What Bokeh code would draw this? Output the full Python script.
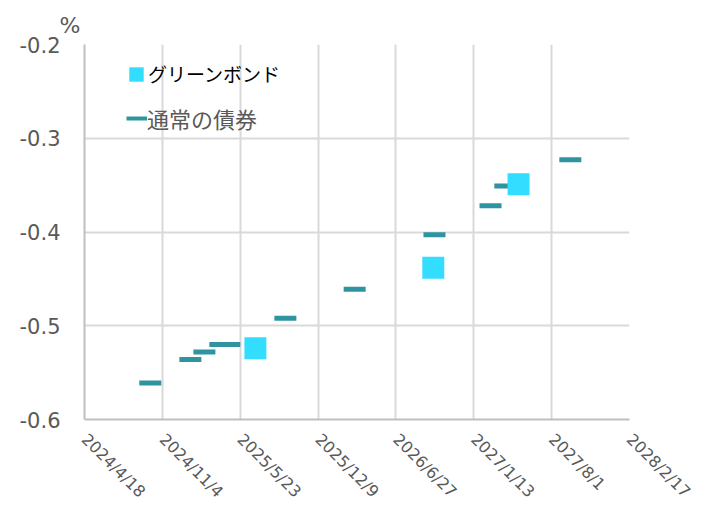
import math
import pandas as pd
from bokeh.plotting import figure
from bokeh.models import (Range1d, FixedTicker, Legend, LegendItem,
                          ColumnDataSource)
from bokeh.embed import file_html
from bokeh.resources import INLINE

# ---------------- data ----------------
start_date = "2024-04-18"
x_tick_labels = ["2024/4/18", "2024/11/4", "2025/5/23", "2025/12/9",
                 "2026/6/27", "2027/1/13", "2027/8/1", "2028/2/17"]
y_tick_labels = ["-0.6", "-0.5", "-0.4", "-0.3", "-0.2"]
y_unit = "%"

green_dates = ["2025-07-01", "2026-10-01", "2027-05-08"]
green_yields = [-0.524, -0.438, -0.349]

regular_dates = ["2024-10-04", "2025-01-15", "2025-02-20", "2025-04-02",
                 "2025-04-25", "2025-09-16", "2026-03-13", "2026-10-04",
                 "2027-02-25", "2027-04-04", "2027-09-18"]
regular_yields = [-0.561, -0.536, -0.528, -0.520, -0.520, -0.492, -0.461,
                  -0.403, -0.372, -0.351, -0.323]

series_names = ["グリーンボンド", "通常の債券"]

# ---------------- helpers ----------------
t0 = pd.Timestamp(start_date)


def to_days(dates, fmt=None):
    d = pd.to_datetime(dates, format=fmt)
    return [int((x - t0).days) for x in d]


x_ticks = to_days(x_tick_labels, fmt="%Y/%m/%d")
y_ticks = [float(s) for s in y_tick_labels]

green_src = ColumnDataSource(dict(x=to_days(green_dates), y=green_yields))
reg_src = ColumnDataSource(dict(x=to_days(regular_dates), y=regular_yields))

GRAY_TXT = "#595959"
GRID = "#D9D9D9"
AXIS = "#BFBFBF"
CYAN = "#33DDFF"
TEAL = "#2F94A0"

p = figure(width=712, height=512, output_backend="svg", toolbar_location=None,
           x_range=Range1d(x_ticks[0], x_ticks[-1]),
           y_range=Range1d(y_ticks[0], y_ticks[-1]),
           min_border_left=84, min_border_right=83,
           min_border_top=44, min_border_bottom=93)
p.outline_line_color = None
p.background_fill_color = "white"
p.border_fill_color = "white"

# unit label "%" as a left-aligned title
p.title.text = y_unit
p.title.align = "left"
p.title.offset = -25
p.title.text_font = "DejaVu Sans"
p.title.text_font_size = "22px"
p.title.text_font_style = "normal"
p.title.text_color = GRAY_TXT
p.title.standoff = 14

# axes
p.xaxis.ticker = FixedTicker(ticks=x_ticks)
p.xaxis.major_label_overrides = {t: l for t, l in zip(x_ticks, x_tick_labels)}
p.yaxis.ticker = FixedTicker(ticks=y_ticks)
p.yaxis.major_label_overrides = {t: l for t, l in zip(y_ticks, y_tick_labels)}

for ax in (p.xaxis, p.yaxis):
    ax.major_tick_in = 0
    ax.major_tick_out = 0
    ax.minor_tick_in = 0
    ax.minor_tick_out = 0
    ax.axis_line_color = AXIS
    ax.axis_line_width = 2
    ax.major_label_text_color = GRAY_TXT
    ax.major_label_text_font = "DejaVu Sans"

p.xaxis.major_label_orientation = -math.pi / 4
p.xaxis.major_label_text_font_size = "16px"
p.xaxis.major_label_standoff = 17
p.yaxis.major_label_text_font_size = "21px"
p.yaxis.major_label_standoff = 24

p.xgrid.grid_line_color = GRID
p.xgrid.grid_line_width = 2
p.ygrid.grid_line_color = GRID
p.ygrid.grid_line_width = 2

# marks
reg = p.scatter("x", "y", source=reg_src, marker="dash", size=22,
                line_color=TEAL, line_width=5, fill_color=None)
sq = p.rect("x", "y", source=green_src, width=22, height=22,
            width_units="screen", height_units="screen",
            fill_color=CYAN, line_color=None)
# legend swatch for the dash series (draws nothing in the plot area)
reg_key = p.line(x=[float("nan")], y=[float("nan")], line_color=TEAL,
                 line_width=4)

# legends
leg1 = Legend(items=[LegendItem(label=series_names[0], renderers=[sq])],
              location=(43, 332), glyph_width=18, glyph_height=18,
              label_standoff=3, padding=0, margin=0, spacing=0,
              border_line_color=None, background_fill_alpha=0,
              label_text_font="Noto Sans CJK JP", label_text_font_size="19px",
              label_text_color="#000000")
leg2 = Legend(items=[LegendItem(label=series_names[1], renderers=[reg_key])],
              location=(42, 285), glyph_width=21, glyph_height=26,
              label_standoff=0, padding=0, margin=0, spacing=0,
              border_line_color=None, background_fill_alpha=0,
              label_text_font="Noto Sans CJK JP", label_text_font_size="22px",
              label_text_color=GRAY_TXT)
p.add_layout(leg1)
p.add_layout(leg2)

open("out.html", "w").write(file_html(p, INLINE))
